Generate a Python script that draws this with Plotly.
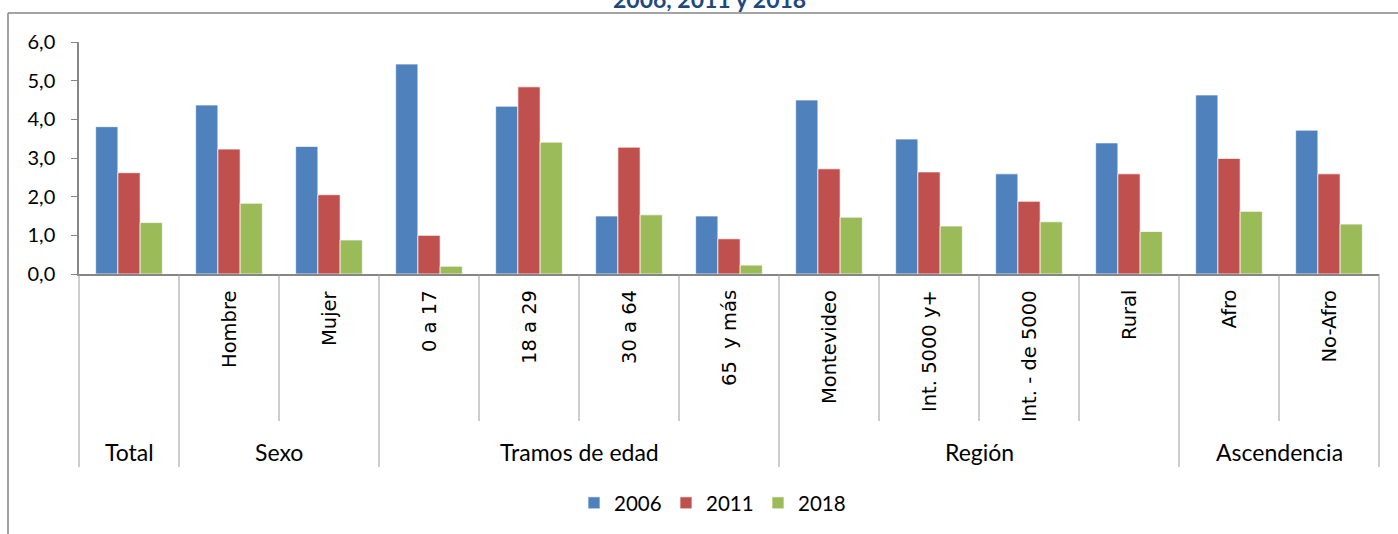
import plotly.graph_objects as go

# ---- data ----
categories = ["Total", "Hombre", "Mujer", "0 a 17", "18 a 29", "30 a 64", "65 y más",
              "Montevideo", "Int. 5000 y+", "Int. - de 5000", "Rural", "Afro", "No-Afro"]
inner_labels = ["", "Hombre", "Mujer", "0 a 17", "18 a 29", "30 a 64", "65  y más",
                "Montevideo", "Int. 5000 y+", "Int. - de 5000", "Rural", "Afro", "No-Afro"]
groups = ["Total", "Sexo", "Tramos de edad", "Región", "Ascendencia"]
group_sizes = [1, 2, 4, 4, 2]

years = ["2006", "2011", "2018"]
v2006 = [3.81, 4.37, 3.30, 5.43, 4.34, 1.50, 1.50, 4.50, 3.49, 2.59, 3.39, 4.63, 3.72]
v2011 = [2.62, 3.23, 2.05, 1.00, 4.84, 3.28, 0.91, 2.72, 2.64, 1.88, 2.59, 2.99, 2.59]
v2018 = [1.33, 1.83, 0.88, 0.20, 3.41, 1.53, 0.23, 1.47, 1.24, 1.35, 1.10, 1.62, 1.29]
series = [v2006, v2011, v2018]
colors = ["#4F81BD", "#C0504D", "#9BBB59"]

title_text = "2006, 2011 y 2018"

# ---- layout constants (pixels) ----
W, H = 1398, 534
ML, MR, MT, MB = 79, 19, 42, 260
PW, PH = W - ML - MR, H - MT - MB
AX = "#868686"
DIV = "#9a9a9a"


def px_x(px):
    return (px - ML) / PW


def px_y(py):
    return (H - MB - py) / PH


fig = go.Figure()
for name, vals, col in zip(years, series, colors):
    fig.add_trace(go.Bar(
        x=categories, y=vals, name=name,
        marker=dict(color=col, line=dict(color="rgba(255,255,255,0.7)", width=1)),
    ))

n = len(categories)
shapes = []
annotations = []

# group / inner boundaries
group_bounds = [0]
for s in group_sizes:
    group_bounds.append(group_bounds[-1] + s)
for k in range(n + 1):
    is_group = k in group_bounds
    shapes.append(dict(type="line", xref="paper", yref="paper",
                       x0=k / n, x1=k / n, y0=0,
                       y1=px_y(467) if is_group else px_y(421),
                       line=dict(color=DIV, width=1)))

# inner labels (rotated)
for cat, lab in zip(categories, inner_labels):
    if lab:
        annotations.append(dict(x=cat, xref="x", y=px_y(288), yref="paper",
                                text=lab, textangle=-90, showarrow=False,
                                xanchor="center", yanchor="top",
                                font=dict(family="DejaVu Sans", size=19.5, color="#000000")))

# group labels
for g, start, size in zip(groups, group_bounds[:-1], group_sizes):
    annotations.append(dict(x=(start + size / 2) / n, xref="paper",
                            y=px_y(452), yref="paper", text=g, showarrow=False,
                            xanchor="center", yanchor="middle",
                            font=dict(family="Lato", size=23, color="#000000")))

# title (cut at the top edge)
annotations.append(dict(x=px_x(709), xref="paper", y=px_y(15), yref="paper",
                        text="<b>" + title_text + "</b>", showarrow=False,
                        xanchor="center", yanchor="bottom",
                        font=dict(family="Lato", size=23, color="#1F497D")))

# outer frame
shapes.append(dict(type="line", xref="paper", yref="paper",
                   x0=px_x(8), x1=px_x(1410), y0=px_y(13), y1=px_y(13),
                   line=dict(color=AX, width=1.5)))
shapes.append(dict(type="line", xref="paper", yref="paper",
                   x0=px_x(8), x1=px_x(8), y0=px_y(13), y1=px_y(545),
                   line=dict(color=AX, width=1.5)))

fig.update_layout(
    width=W, height=H,
    margin=dict(l=ML, r=MR, t=MT, b=MB, autoexpand=False),
    paper_bgcolor="white", plot_bgcolor="white",
    separators=",.",
    barmode="group", bargap=0.333, bargroupgap=0,
    font=dict(family="Lato", size=20, color="#000000"),
    xaxis=dict(type="category", showticklabels=False, ticks="",
               showline=True, linecolor=AX, linewidth=1.5, showgrid=False,
               range=[-0.5, n - 0.5], fixedrange=True),
    yaxis=dict(range=[0, 6], dtick=1, tickformat=".1f", showgrid=False,
               zeroline=False, showline=True, linecolor=AX, linewidth=1.5,
               ticks="outside", ticklen=6, tickcolor=AX, ticklabelstandoff=12,
               tickfont=dict(family="Lato", size=20, color="#000000")),
    legend=dict(orientation="h", x=px_x(712), xanchor="center",
                y=px_y(503), yanchor="middle",
                font=dict(family="Lato", size=20.5, color="#000000"),
                itemwidth=30, entrywidth=47, traceorder="normal"),
    shapes=shapes, annotations=annotations,
    showlegend=True,
)

fig.write_html(
    "out.html",
    config={"displayModeBar": False},
    post_script="document.body.style.margin='0';document.body.style.overflow='hidden';",
)
